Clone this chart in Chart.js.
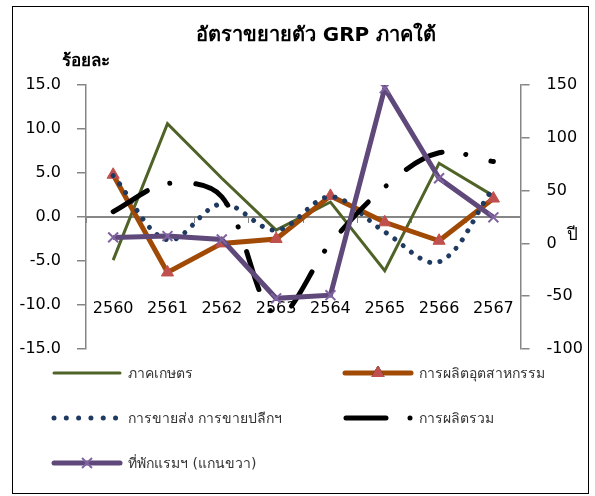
<!DOCTYPE html>
<html>
<head>
<meta charset="utf-8">
<script src="https://cdn.jsdelivr.net/npm/chart.js@4.4.1/dist/chart.umd.min.js"></script>
<style>
  html, body { margin: 0; padding: 0; background: #fff; }
  #wrap { width: 595px; height: 496px; }
</style>
</head>
<body>
<div id="wrap"><canvas id="grpChart" width="595" height="496"></canvas></div>
<script>
// --- Data ---
const years = ['2560', '2561', '2562', '2563', '2564', '2565', '2566', '2567'];
const agriculture = [-4.9, 10.6, 4.4, -1.5, 1.7, -6.1, 6.1, 2.4];
const industry = [4.8, -6.3, -3.0, -2.5, 2.4, -0.6, -2.7, 2.1];
const tradeRetail = [4.7, -2.6, 1.5, -1.5, 2.3, -1.7, -5.1, 3.3];
const totalProduction = [0.6, 3.8, 2.3, -11.1, -3.0, 3.4, 7.3, 6.3];
const accommodation = [5.7, 6.9, 3.8, -52, -49, 147, 61.7, 24.7]; // right axis

const leftTicks = { min: -15, max: 15, step: 5 };
const rightTicks = { min: -100, max: 150, step: 50 };

const FONT = "'DejaVu Sans', 'Noto Sans', sans-serif";
const axisGray = '#868686';

// Title, axis captions, legend and outer frame drawn on the canvas
const decorations = {
    id: 'decorations',
    afterDraw(chart) {
        const ctx = chart.ctx;
        ctx.save();

        // outer frame
        ctx.strokeStyle = '#000';
        ctx.lineWidth = 1;
        ctx.strokeRect(12.5, 6.5, 576, 487);

        ctx.fillStyle = '#000';
        ctx.textBaseline = 'middle';
        ctx.textAlign = 'center';
        ctx.font = 'bold 20px ' + FONT;
        ctx.fillText('อัตราขยายตัว GRP ภาคใต้', 316, 36);

        ctx.textAlign = 'left';
        ctx.font = 'bold 17px ' + FONT;
        ctx.fillText('ร้อยละ', 62, 62);

        ctx.font = '17px ' + FONT;
        ctx.fillText('ปี', 567, 236);

        // legend
        const cols = [52, 343];
        const rows = [373, 418, 463];
        const slots = [[0, 0], [1, 0], [0, 1], [1, 1], [0, 2]];
        chart.data.datasets.forEach((ds, i) => {
            const x0 = cols[slots[i][0]];
            const y = rows[slots[i][1]];
            ctx.save();
            ctx.strokeStyle = ds.borderColor;
            ctx.lineWidth = ds.borderWidth;
            ctx.lineCap = ds.borderCapStyle || 'round';
            ctx.setLineDash(ds.legendDash || []);
            ctx.beginPath();
            if (ds.legendDash && ds.legendDash.length === 2) {
                ctx.moveTo(x0 + 2, y);
                ctx.lineTo(x0 + 66, y);
            } else if (ds.legendDash) {
                ctx.moveTo(x0 + 3, y);
                ctx.lineTo(x0 + 68, y);
            } else {
                ctx.moveTo(x0 + 2, y);
                ctx.lineTo(x0 + 68, y);
            }
            ctx.stroke();
            ctx.restore();
            if (ds.pointStyle && ds.pointRadius > 0) {
                Chart.helpers.drawPoint(ctx, {
                    pointStyle: ds.pointStyle,
                    radius: ds.pointRadius,
                    borderWidth: ds.pointBorderWidth,
                    rotation: 0
                }, x0 + 35, y);
                ctx.save();
                ctx.fillStyle = ds.pointBackgroundColor;
                ctx.strokeStyle = ds.pointBorderColor;
                ctx.lineWidth = ds.pointBorderWidth;
                ctx.beginPath();
                Chart.helpers.drawPoint(ctx, {
                    pointStyle: ds.pointStyle,
                    radius: ds.pointRadius,
                    borderWidth: ds.pointBorderWidth,
                    rotation: 0
                }, x0 + 35, y);
                ctx.restore();
            }
            ctx.fillStyle = '#333';
            ctx.textAlign = 'left';
            ctx.textBaseline = 'middle';
            ctx.font = '14px ' + FONT;
            ctx.fillText(ds.label, x0 + 76, y + 1);
        });

        ctx.restore();
    }
};

const ctxLine = document.getElementById('grpChart').getContext('2d');
new Chart(ctxLine, {
    type: 'line',
    data: {
        labels: years,
        datasets: [
            {
                label: 'ภาคเกษตร',
                data: agriculture,
                yAxisID: 'y',
                borderColor: '#4F6228',
                borderWidth: 3,
                pointRadius: 0,
                tension: 0,
                order: 4
            },
            {
                label: 'การผลิตอุตสาหกรรม',
                data: industry,
                yAxisID: 'y',
                borderColor: '#A04A06',
                borderWidth: 5,
                pointStyle: 'triangle',
                pointRadius: 7,
                pointBorderWidth: 1,
                pointBackgroundColor: '#C0504D',
                pointBorderColor: '#C0504D',
                tension: 0,
                order: 3
            },
            {
                label: 'การขายส่ง การขายปลีกฯ',
                data: tradeRetail,
                yAxisID: 'y',
                borderColor: '#1F3A60',
                borderWidth: 5,
                borderCapStyle: 'round',
                borderDash: [0.01, 10.5],
                legendDash: [0.01, 12.3],
                pointRadius: 0,
                tension: 0.35,
                order: 2
            },
            {
                label: 'การผลิตรวม',
                data: totalProduction,
                yAxisID: 'y',
                borderColor: '#000000',
                borderWidth: 5,
                borderCapStyle: 'round',
                borderDash: [40, 24, 0.01, 26],
                legendDash: [40, 24, 0.01, 26],
                pointRadius: 0,
                tension: 0.35,
                order: 1
            },
            {
                label: 'ที่พักแรมฯ (แกนขวา)',
                data: accommodation,
                yAxisID: 'y1',
                borderColor: '#5F497A',
                borderWidth: 5,
                pointStyle: 'crossRot',
                pointRadius: 7,
                pointBorderWidth: 2,
                pointBackgroundColor: '#8064A2',
                pointBorderColor: '#8064A2',
                tension: 0,
                order: 0
            }
        ]
    },
    options: {
        responsive: false,
        animation: false,
        devicePixelRatio: 1,
        layout: { padding: { top: 85, bottom: 147, left: 0, right: 0 } },
        plugins: {
            legend: { display: false },
            title: { display: false },
            tooltip: { enabled: false }
        },
        scales: {
            x: {
                type: 'category',
                position: { y: 0 },
                offset: true,
                grid: { display: true, drawOnChartArea: false, drawTicks: true, tickLength: 5, color: axisGray, offset: true },
                border: { display: true, color: axisGray, width: 2 },
                ticks: { padding: 77, color: '#000', font: { size: 16, family: FONT }, maxRotation: 0, autoSkip: false }
            },
            y: {
                position: 'left',
                min: leftTicks.min,
                max: leftTicks.max,
                ticks: {
                    stepSize: leftTicks.step,
                    padding: 16,
                    color: '#000',
                    font: { size: 16, family: FONT },
                    callback: v => v.toFixed(1)
                },
                grid: { drawOnChartArea: false, tickLength: 9, color: axisGray, lineWidth: 1.5 },
                border: { color: axisGray, width: 1.5 },
                afterFit(scale) { scale.width = 86; }
            },
            y1: {
                position: 'right',
                min: rightTicks.min,
                max: rightTicks.max,
                ticks: {
                    stepSize: rightTicks.step,
                    padding: 17,
                    color: '#000',
                    font: { size: 16, family: FONT }
                },
                grid: { drawOnChartArea: false, tickLength: 9, color: axisGray, lineWidth: 1.5 },
                border: { color: axisGray, width: 1.5 },
                afterFit(scale) { scale.width = 68; }
            }
        }
    },
    plugins: [decorations]
});
</script>
</body>
</html>
